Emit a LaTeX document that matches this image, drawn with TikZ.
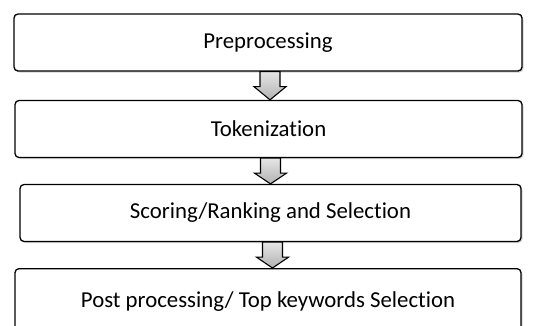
\documentclass[tikz,border=0pt]{standalone}
\usepackage{fontspec}
\setmainfont{Carlito}[RawFeature={-liga;-clig;-dlig;-calt}]
\usetikzlibrary{calc, shadows}

% block arrow between two stages
\newcommand{\stagearrow}[2]{%
  \draw[flowarrow] let \p1=($(#1.south)+(2pt,0)$), \p2=(#2.north) in
    (\x1-10pt,\y1) -- (\x1+10pt,\y1) -- (\x1+10pt,\y1-15pt) -- (\x1+16pt,\y1-15pt)
    -- (\x1,\y2) -- (\x1-16pt,\y1-15pt) -- (\x1-10pt,\y1-15pt) -- cycle;}

\begin{document}
\begin{tikzpicture}[x=1pt, y=1pt,
    stage/.style={draw=black, line width=1.3pt, rounded corners=4pt, fill=white,
      minimum height=57pt, inner sep=0pt, font=\fontsize{22.8}{27}\selectfont,
      drop shadow={shadow xshift=1.5pt, shadow yshift=-1.5pt, opacity=0.35}},
    flowarrow/.style={draw=black, line width=1.1pt, line join=miter,
      top color=gray!20, bottom color=gray!60}]
  \clip (0,0) rectangle (541,-325);
  % stages
  \node[stage, minimum width=508pt] (pre) at (268,-42.5) {Preprocessing};
  \node[stage, minimum width=507pt] (tok) at (268.5,-129) {Tokenization};
  \node[stage, minimum width=501pt] (score) at (270.5,-213) {Scoring/Ranking and Selection};
  \node[stage, minimum width=506pt, minimum height=66pt, anchor=north] (post) at (268,-268) {Post processing/ Top keywords Selection};
  % arrows
  \stagearrow{pre}{tok}
  \stagearrow{tok}{score}
  \stagearrow{score}{post}
\end{tikzpicture}
\end{document}
